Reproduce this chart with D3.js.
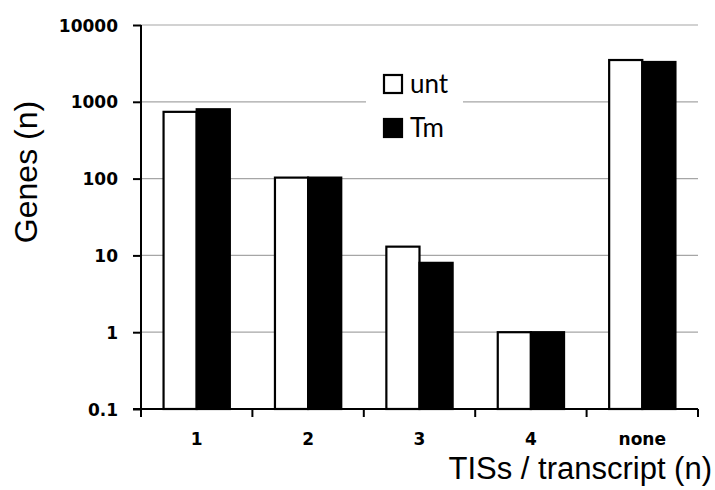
<!DOCTYPE html>
<html><head><meta charset="utf-8">
<script src="https://cdn.jsdelivr.net/npm/d3@7"></script>
<style>body{margin:0;background:#fff}svg{display:block}</style>
</head><body>
<svg id="c" width="715" height="490"></svg>
<script>
const categories = ["1", "2", "3", "4", "none"];
const seriesNames = ["unt", "Tm"];
const untValues = [740, 103, 13, 1, 3500];
const tmValues = [800, 103, 8, 1, 3300];
const yTickValues = [0.1, 1, 10, 100, 1000, 10000];
const yTickLabels = ["0.1", "1", "10", "100", "1000", "10000"];

const svg = d3.select("#c");
const L = 141, R = 698, T = 25, B = 409;
const x = d3.scaleBand().domain(categories).range([L, R]).padding(0);
const y = d3.scaleLog().domain([0.1, 10000]).range([B, T]);
const bw = x.bandwidth();
const groupW = bw * 0.595;
const x1 = d3.scaleBand().domain(seriesNames).range([(bw - groupW) / 2, (bw + groupW) / 2]).padding(0);

// gridlines
svg.append("g").selectAll("line").data(yTickValues.slice(1)).join("line")
  .attr("x1", L).attr("x2", R).attr("y1", d => y(d)).attr("y2", d => y(d))
  .attr("stroke", "#a6a6a6").attr("stroke-width", 1.2);

// legend background & legend
const lg = svg.append("g");
lg.append("rect").attr("x", 366).attr("y", 62).attr("width", 97).attr("height", 88).attr("fill", "#fff");
const legendColors = {unt: "#fff", Tm: "#000"};
seriesNames.forEach((s, i) => {
  const cy = 84 + i * 44;
  lg.append("rect").attr("x", 384).attr("y", cy - 9).attr("width", 18).attr("height", 18)
    .attr("fill", legendColors[s]).attr("stroke", "#000").attr("stroke-width", 2.2);
  lg.append("text").attr("x", 410).attr("y", cy + 9).text(s)
    .attr("font-family", "Lato, 'Open Sans', sans-serif").attr("font-size", 26).attr("fill", "#000");
});

// bars
const data = categories.map((c, i) => ({c, vals: [{s: "unt", v: untValues[i]}, {s: "Tm", v: tmValues[i]}]}));
const g = svg.append("g");
g.selectAll("g").data(data).join("g")
  .attr("transform", d => `translate(${x(d.c)},0)`)
  .selectAll("rect").data(d => d.vals).join("rect")
  .attr("x", d => x1(d.s)).attr("width", x1.bandwidth())
  .attr("y", d => y(d.v)).attr("height", d => B - y(d.v))
  .attr("fill", d => legendColors[d.s]).attr("stroke", "#000").attr("stroke-width", 2.2);

// y axis
const yAxis = d3.axisLeft(y).tickValues(yTickValues).tickFormat((d, i) => yTickLabels[i]).tickSize(8).tickPadding(15);
const ya = svg.append("g").attr("transform", `translate(${L},0)`).call(yAxis);
ya.select(".domain").attr("stroke-width", 2).attr("d", `M0,${T}V${B}`);
ya.selectAll(".tick line").attr("stroke-width", 2);
ya.selectAll(".tick text").attr("font-family", "'DejaVu Sans', sans-serif").attr("font-weight", "bold").attr("font-size", 17).attr("fill", "#000").attr("dy", "0.36em");

// x axis
const xa = svg.append("g").attr("transform", `translate(0,${B})`);
xa.append("line").attr("x1", L - 8).attr("x2", R).attr("y1", 0).attr("y2", 0).attr("stroke", "#000").attr("stroke-width", 2);
const bounds = categories.map(c => x(c)).concat([R]);
xa.selectAll("line.t").data(bounds).join("line").attr("class", "t")
  .attr("x1", d => d).attr("x2", d => d).attr("y1", 0).attr("y2", 8).attr("stroke", "#000").attr("stroke-width", 2);
xa.selectAll("text").data(categories).join("text")
  .attr("x", d => x(d) + bw / 2).attr("y", 36).attr("text-anchor", "middle")
  .attr("font-family", "'DejaVu Sans', sans-serif").attr("font-weight", "bold").attr("font-size", 17).text(d => d);

// axis titles
svg.append("text").attr("x", 712).attr("y", 479).attr("text-anchor", "end")
  .attr("font-family", "'Liberation Sans', Arial, sans-serif").attr("font-size", 31).text("TISs / transcript (n)");
svg.append("text").attr("transform", "translate(37,172) rotate(-90)").attr("text-anchor", "middle")
  .attr("font-family", "'Liberation Sans', Arial, sans-serif").attr("font-size", 32).text("Genes (n)");
</script>
</body></html>
